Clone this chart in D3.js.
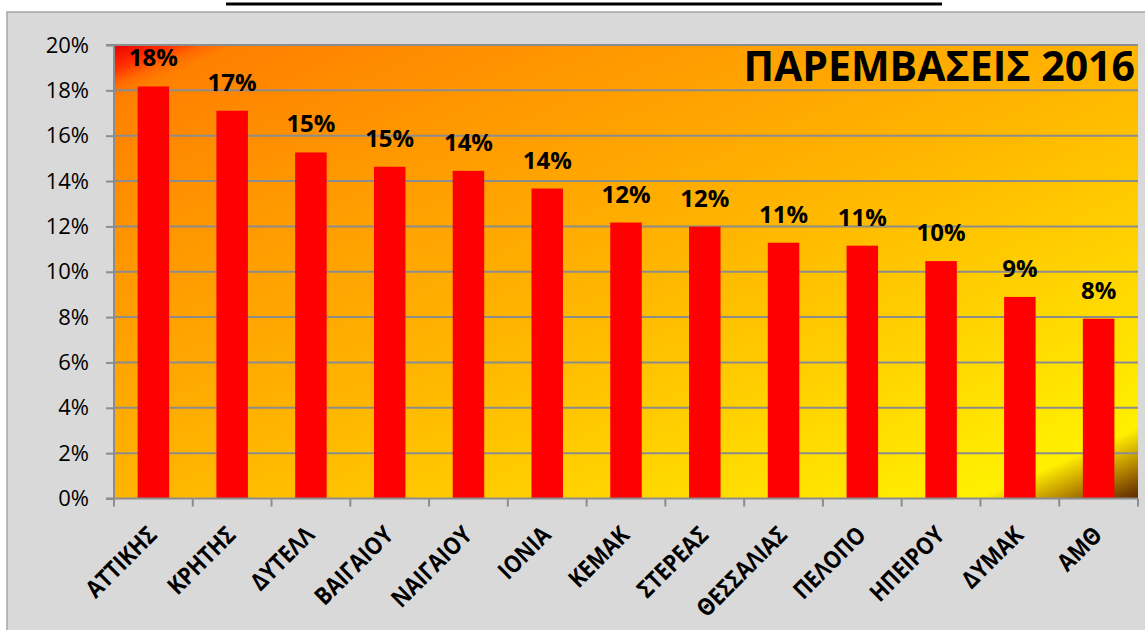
<!DOCTYPE html>
<html><head><meta charset="utf-8">
<script src="https://cdn.jsdelivr.net/npm/d3@7"></script>
<style>body{margin:0;background:#fff;overflow:hidden}svg{display:block}</style>
</head><body>
<script>
const categories = ["ΑΤΤΙΚΗΣ","ΚΡΗΤΗΣ","ΔΥΤΕΛΛ","ΒΑΙΓΑΙΟΥ","ΝΑΙΓΑΙΟΥ","ΙΟΝΙΑ","ΚΕΜΑΚ","ΣΤΕΡΕΑΣ","ΘΕΣΣΑΛΙΑΣ","ΠΕΛΟΠΟ","ΗΠΕΙΡΟΥ","ΔΥΜΑΚ","ΑΜΘ"];
const values = [0.1817,0.171,0.1526,0.1463,0.1445,0.1367,0.1217,0.1199,0.1128,0.1115,0.1047,0.0889,0.0793];
const yTicks = [0,0.02,0.04,0.06,0.08,0.10,0.12,0.14,0.16,0.18,0.20];
const chartTitle = "ΠΑΡΕΜΒΑΣΕΙΣ 2016";

const W = 1145, H = 630;
const svg = d3.select("body").append("svg").attr("width", W).attr("height", H);
const m = {left:114, right:1138, top:45, bottom:498.5};

// chart area
svg.append("rect").attr("x",7).attr("y",12).attr("width",W).attr("height",H)
  .attr("fill","#d9d9d9").attr("stroke","#a6a6a6").attr("stroke-width",1.5);
// top underline fragment
svg.append("line").attr("x1",226).attr("x2",942).attr("y1",4).attr("y2",4)
  .attr("stroke","#000").attr("stroke-width",3);

const defs = svg.append("defs");
const g = defs.append("linearGradient").attr("id","bg")
  .attr("x1",0).attr("y1",0).attr("x2",1).attr("y2",1);
[[0,"#e80000"],[0.025,"#ff2a00"],[0.045,"#ff6a00"],[0.06,"#ff8000"],[0.25,"#ff9800"],
 [0.5,"#ffb400"],[0.72,"#ffd200"],[0.88,"#ffea00"],[0.922,"#fff000"],
 [0.94,"#e0c000"],[0.96,"#b88a00"],[0.98,"#8a5500"],[1,"#5a2800"]]
 .forEach(([o,c])=>g.append("stop").attr("offset",o).attr("stop-color",c));

const x = d3.scaleBand().domain(categories).range([m.left,m.right]).paddingInner(0.6).paddingOuter(0.3);
const y = d3.scaleLinear().domain([0,0.20]).range([m.bottom,m.top]);

svg.append("rect").attr("x",m.left).attr("y",m.top).attr("width",m.right-m.left).attr("height",m.bottom-m.top)
  .attr("fill","url(#bg)");

// gridlines
svg.append("g").selectAll("line").data(yTicks.slice(1)).join("line")
  .attr("x1",m.left).attr("x2",m.right).attr("y1",d=>y(d)).attr("y2",d=>y(d))
  .attr("stroke","#8c8c8c").attr("stroke-width",2);

// bars
svg.append("g").selectAll("rect").data(values).join("rect")
  .attr("x",(d,i)=>x(categories[i])).attr("width",x.bandwidth())
  .attr("y",d=>y(d)).attr("height",d=>y(0)-y(d)).attr("fill","#ff0000");

// value labels
svg.append("g").selectAll("text").data(values).join("text")
  .attr("x",(d,i)=>x(categories[i])+x.bandwidth()/2).attr("y",d=>y(d)-20)
  .attr("text-anchor","middle").attr("font-family","Open Sans").attr("font-weight","bold")
  .attr("font-size",24).attr("fill","#000").text(d=>d3.format(".0%")(d));

// y axis
const yAxis = svg.append("g").attr("transform",`translate(${m.left},0)`)
  .call(d3.axisLeft(y).tickValues(yTicks).tickFormat(d3.format(".0%")).tickSize(8).tickPadding(17));
yAxis.select(".domain").attr("stroke","#8c8c8c").attr("stroke-width",2).attr("d",`M-8,${m.bottom}H0V${m.top}H-8`);
yAxis.selectAll(".tick line").attr("stroke","#8c8c8c").attr("stroke-width",2);
yAxis.selectAll("text").attr("font-family","Open Sans").attr("font-size",22).attr("fill","#000");

// x axis
const step = x.step();
const xAxisG = svg.append("g");
xAxisG.append("line").attr("x1",m.left).attr("x2",m.right).attr("y1",m.bottom).attr("y2",m.bottom)
  .attr("stroke","#8c8c8c").attr("stroke-width",2);
const bounds = [m.left, ...categories.map(c=>x(c)+x.bandwidth()/2+step/2)];
xAxisG.selectAll("line.t").data(bounds).join("line").attr("class","t")
  .attr("x1",d=>d).attr("x2",d=>d).attr("y1",m.bottom).attr("y2",m.bottom+8)
  .attr("stroke","#8c8c8c").attr("stroke-width",2);
xAxisG.selectAll("text").data(categories).join("text")
  .attr("transform",d=>`translate(${x(d)+x.bandwidth()/2+5},${m.bottom+38}) rotate(-45) scale(0.88,1)`)
  .attr("text-anchor","end").attr("font-family","Open Sans").attr("font-weight","bold")
  .attr("font-size",24).attr("fill","#000").text(d=>d);

// title
svg.append("text").attr("x",1135).attr("y",81).attr("text-anchor","end")
  .attr("font-family","Open Sans").attr("font-weight","bold").attr("font-size",41)
  .attr("fill","#000").text(chartTitle);
</script>
</body></html>
